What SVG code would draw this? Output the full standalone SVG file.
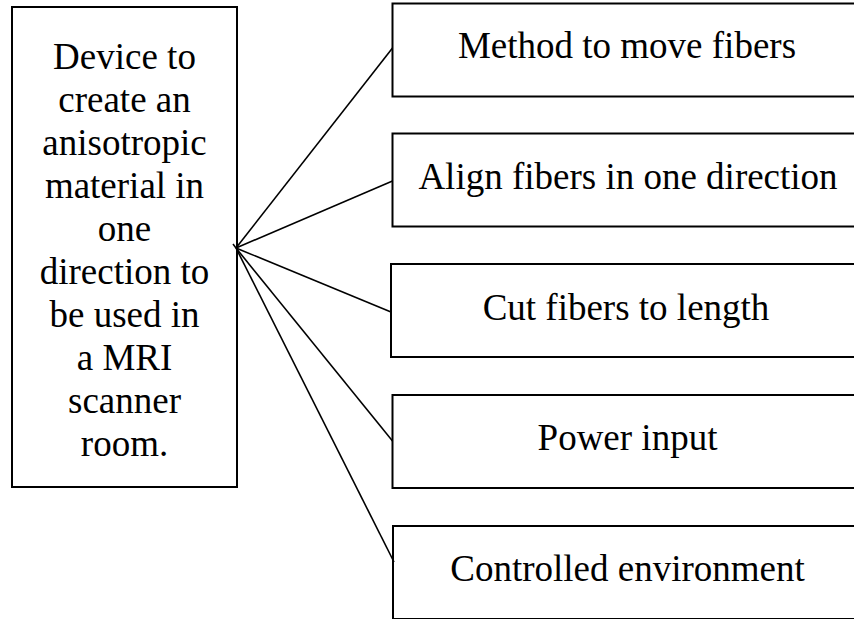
<svg xmlns="http://www.w3.org/2000/svg" width="854" height="619" viewBox="0 0 854 619">
<style>
.box{fill:#fff;stroke:#000;stroke-width:2}
.t{font-family:"Liberation Serif","Times New Roman",serif;font-size:37px;fill:#000;text-anchor:middle}
.c{stroke:#000;stroke-width:1.6;fill:none}
</style>
<rect width="854" height="619" fill="#fff"/>
<g id="main">
<rect class="box" x="12" y="7" width="225" height="480"/>
<text class="t" x="124.5" y="69">Device to</text>
<text class="t" x="124.5" y="112">create an</text>
<text class="t" x="124.5" y="155">anisotropic</text>
<text class="t" x="124.5" y="198">material in</text>
<text class="t" x="124.5" y="241">one</text>
<text class="t" x="124.5" y="284">direction to</text>
<text class="t" x="124.5" y="327">be used in</text>
<text class="t" x="124.5" y="370">a MRI</text>
<text class="t" x="124.5" y="413">scanner</text>
<text class="t" x="124.5" y="456">room.</text>
</g>
<g id="n1">
<rect class="box" x="392.5" y="3.5" width="470" height="93"/>
<text class="t" x="627" y="58">Method to move fibers</text>
</g>
<g id="n2">
<rect class="box" x="392.5" y="133.5" width="470" height="93"/>
<text class="t" x="628" y="189">Align fibers in one direction</text>
</g>
<g id="n3">
<rect class="box" x="391" y="264" width="470" height="93"/>
<text class="t" x="626" y="320">Cut fibers to length</text>
</g>
<g id="n4">
<rect class="box" x="392.5" y="395" width="470" height="93"/>
<text class="t" x="627.5" y="450">Power input</text>
</g>
<g id="n5">
<rect class="box" x="393" y="526" width="470" height="93"/>
<text class="t" x="627.5" y="581">Controlled environment</text>
</g>
<g id="connectors">
<line class="c" x1="236" y1="248" x2="392.5" y2="48"/>
<line class="c" x1="236" y1="248" x2="392.5" y2="181"/>
<line class="c" x1="236" y1="248" x2="391" y2="312"/>
<line class="c" x1="236" y1="248" x2="392.5" y2="441"/>
<line class="c" x1="236" y1="248" x2="394" y2="562"/>
<line class="c" x1="233" y1="244" x2="236" y2="248"/>
</g>
</svg>
